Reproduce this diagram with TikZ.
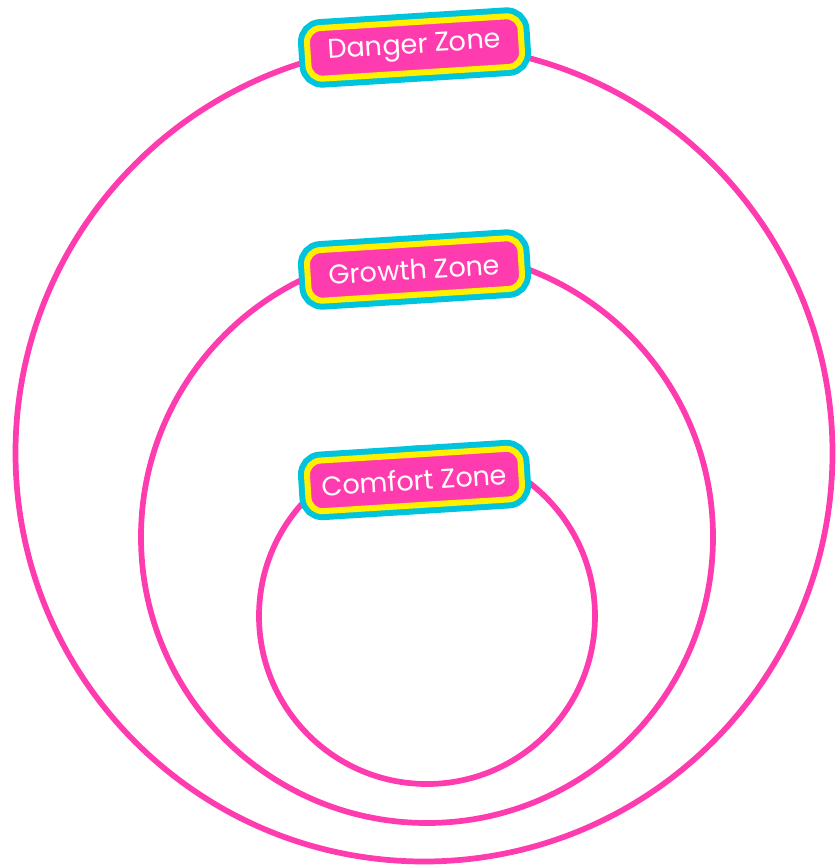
\documentclass[tikz,border=0pt]{standalone}
\usepackage{fontspec}
\setmainfont{Poppins}
\definecolor{ringpink}{RGB}{255,60,175}
\definecolor{labcyan}{RGB}{0,196,222}
\definecolor{labyellow}{RGB}{255,240,0}
\tikzset{
  ring/.style={draw=ringpink, line width=4.3pt},
  zonelabel/.style={rectangle, rounded corners=10.5pt, minimum width=160.5pt, minimum height=38pt,
    inner sep=0pt, rotate=3.6, fill=ringpink, draw=labyellow, line width=4.5pt,
    preaction={draw=labcyan, line width=13.5pt},
    text=white, font=\fontsize{20.3}{24}\selectfont}
}
\begin{document}
\begin{tikzpicture}[x=0.75pt,y=-0.75pt]
\useasboundingbox (0,0) rectangle (836,867);
\coordinate (cO) at (424,453);
\coordinate (cM) at (427,537);
\coordinate (cI) at (427,616);
\draw[ring] (cO) circle[radius=408.5];
\draw[ring] (cM) circle[radius=286];
\draw[ring] (cI) circle[radius=168];
\node[zonelabel] (danger) at (414.5,47.5) {Danger Zone};
\node[zonelabel] (growth) at (414.5,269.5) {Growth Zone};
\node[zonelabel] (comfort) at (414.5,480) {Comfort Zone};
\end{tikzpicture}
\end{document}
